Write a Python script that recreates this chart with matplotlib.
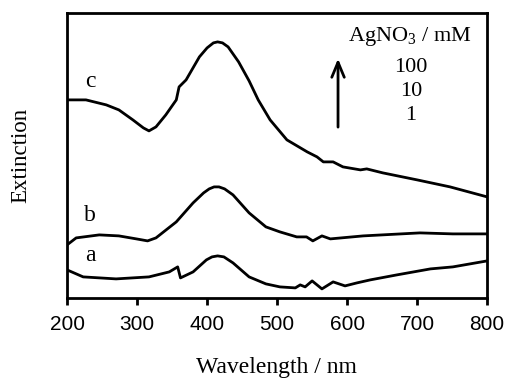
import matplotlib
matplotlib.use('Agg')
import matplotlib.pyplot as plt
import numpy as np

plt.rcParams['mathtext.fontset'] = 'custom'
plt.rcParams['mathtext.rm'] = 'Liberation Serif'

# curve c (100 mM)
wl_c = [200, 227, 256, 274, 294, 309, 317, 327, 341, 356, 360, 370, 389, 400, 409, 415, 422, 430, 445, 460,
        473, 490, 514, 543, 557, 566, 580, 594, 619, 628, 651, 700, 747, 800]
ext_c = [198, 198, 193, 188, 178, 170, 167, 171, 183, 198, 211, 218, 241, 250, 255, 256, 255, 251, 236, 217,
         198, 178, 158, 146, 141, 136, 136, 131, 128, 129, 125, 118, 111, 101]
# curve b (10 mM)
wl_b = [200, 213, 246, 274, 299, 315, 327, 356, 380, 395, 403, 410, 417, 425, 437, 460, 484, 504,
        528, 542, 551, 564, 576, 623, 704, 751, 800]
ext_b = [53, 60, 63, 62, 59, 57, 60, 76, 95, 105, 109, 111, 111, 109, 103, 85, 71, 66,
         61, 61, 57, 62, 59, 62, 65, 64, 64]
# curve a (1 mM)
wl_a = [200, 223, 270, 317, 346, 358, 362, 380, 399, 407, 415, 424, 437, 460, 484, 504, 526, 533, 540, 550,
        564, 580, 597, 614, 633, 671, 719, 751, 800]
ext_a = [28, 21, 19, 21, 26, 31, 20, 26, 38, 41, 42, 41, 35, 21, 14, 11, 10, 13, 11, 17,
         9, 16, 12, 15, 18, 23, 29, 31, 37]

curve_labels = ['a', 'b', 'c']
label_pos = [(233, 42), (233, 82), (233, 216)]
conc_labels = ['100', '10', '1']

fig = plt.figure(figsize=(5.08, 3.79), dpi=100)
ax = fig.add_axes([0.132, 0.214, 0.827, 0.752])

for wl, ext in [(wl_a, ext_a), (wl_b, ext_b), (wl_c, ext_c)]:
    ax.plot(wl, ext, color='black', lw=2, solid_joinstyle='round')

for lab, (x, y) in zip(curve_labels, label_pos):
    ax.text(x, y, lab, fontsize=17, family='Liberation Serif', ha='center', va='center')

ax.text(690, 261, 'AgNO$_3$ / mM', fontsize=16, family='Liberation Serif', ha='center', va='center')
for i, t in enumerate(conc_labels):
    ax.text(691, 230 - i * 24, t, fontsize=16, family='Liberation Serif', ha='center', va='center')
ax.annotate('', xy=(587, 242), xytext=(587, 168),
            arrowprops=dict(arrowstyle='->, head_width=0.25, head_length=0.6', lw=2, color='black',
                            mutation_scale=18))

ax.set_xlim(200, 800)
ax.set_ylim(0, 285)
ax.set_xticks([200, 300, 400, 500, 600, 700, 800])
ax.set_yticks([])
ax.tick_params(axis='x', direction='out', length=5, width=2, labelsize=15, pad=7)
for lbl in ax.get_xticklabels():
    lbl.set_family('Liberation Sans')
for s in ax.spines.values():
    s.set_linewidth(2)

fig.text(0.545, 0.03, 'Wavelength / nm', fontsize=17, family='Liberation Serif', ha='center', va='center')
fig.text(0.04, 0.59, 'Extinction', fontsize=16.5, family='Liberation Serif', ha='center', va='center',
         rotation=90)

fig.savefig('out.png', dpi=100)
